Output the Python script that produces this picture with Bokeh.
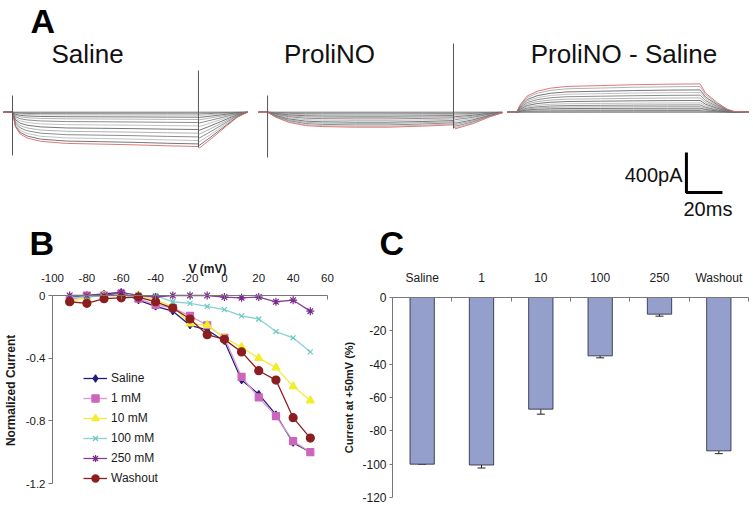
import math
from bokeh.plotting import figure
from bokeh.layouts import column, row
from bokeh.models import Label, Range1d, FixedTicker, Whisker, TeeHead, ColumnDataSource
from bokeh.embed import file_html
from bokeh.resources import INLINE

SANS = "Liberation Sans, Arial, sans-serif"

# ---------------- Panel A data (time in ms, current in pA) ----------------
saline_t = [0, 5, 6.7, 9.4, 13.1, 20.6, 35, 54, 72, 91, 108, 108.9, 113.1, 118.7, 124.2, 129.8, 134.3, 135.6]
saline_shape = [0, 0, 0.44, 0.64, 0.75, 0.85, 0.91, 0.93, 0.95, 0.98, 1.0, 1.04, 0.87, 0.63, 0.39, 0.15, 0.03, 0]
saline_amps = [0, -7, -17, -30, -50, -73, -103, -137, -173, -210, -247, -283, -317, -343]

prolino_t = [0, 5, 9.4, 16.7, 26, 35.5, 54, 72, 91, 108, 109.4, 118.7, 128, 135.4]
prolino_shape = [0, 0, 0.33, 0.67, 0.89, 0.96, 1.0, 1.0, 0.93, 0.84, 1.1, 0.78, 0.33, 0.04]
prolino_amps = [0, -7, -17, -27, -40, -53, -67, -83, -100, -113, -127, -140, -150]

diff_t = [0, 5, 7.2, 10.9, 16.5, 23.9, 33, 51.7, 70, 89, 107, 110, 116.5, 122, 125.6, 133.9]
diff_shape = [0, 0, 0.28, 0.57, 0.74, 0.85, 0.91, 0.94, 0.97, 0.99, 1.0, 0.68, 0.34, 0.11, 0.03, 0]
diff_amps = [0, 7, 17, 27, 40, 57, 73, 93, 117, 143, 170, 197, 223, 257, 283]

# capacitive transients: time, top, bottom
saline_spike_t = [5, 108.3]
saline_spike_top = [167, 417]
saline_spike_bot = [-433, -353]
prolino_spike_t = [5, 108.3]
prolino_spike_top = [167, 687]
prolino_spike_bot = [-453, -163]

panel_titles = ["Saline", "ProliNO", "ProliNO - Saline"]
scale_current = 400   # pA
scale_time = 20       # ms

# ---------------- Panel B data ----------------
voltages = [-90, -80, -70, -60, -50, -40, -30, -20, -10, 0, 10, 20, 30, 40, 50]
iv_saline = [-0.01, 0.0, 0.01, 0.02, -0.03, -0.07, -0.10, -0.19, -0.22, -0.29, -0.54, -0.63, -0.76, -0.94, -1.0]
iv_1mM = [-0.03, 0.0, 0.0, 0.01, -0.02, -0.06, -0.08, -0.13, -0.19, -0.27, -0.52, -0.65, -0.77, -0.93, -1.0]
iv_10mM = [-0.04, -0.01, 0.0, 0.0, 0.0, -0.03, -0.07, -0.18, -0.19, -0.27, -0.33, -0.40, -0.46, -0.58, -0.67]
iv_100mM = [-0.01, -0.01, 0.0, 0.0, -0.01, 0.0, -0.04, -0.05, -0.07, -0.09, -0.13, -0.15, -0.23, -0.27, -0.36]
iv_250mM = [0.0, 0.0, 0.0, 0.02, 0.0, -0.01, 0.0, 0.0, 0.0, -0.01, -0.015, -0.01, -0.04, -0.03, -0.10]
iv_washout = [-0.04, -0.05, -0.02, -0.015, -0.01, -0.04, -0.08, -0.15, -0.25, -0.28, -0.36, -0.48, -0.54, -0.78, -0.91]
iv_names = ["Saline", "1 mM", "10 mM", "100 mM", "250 mM", "Washout"]
b_xticks = [-100, -80, -60, -40, -20, 0, 20, 40, 60]
b_xtick_labels = ["-100", "-80", "-60", "-40", "-20", "0", "20", "40", "60"]
b_yticks = [-1.2, -0.8, -0.4, 0]
b_ytick_labels = ["-1.2", "-0.8", "-0.4", "0"]

# ---------------- Panel C data ----------------
c_categories = ["Saline", "1", "10", "100", "250", "Washout"]
c_values = [-100, -100.5, -67, -35, -10, -92]
c_errors = [0, 1.8, 3.0, 1.2, 1.2, 1.7]
c_yticks = [-120, -100, -80, -60, -40, -20, 0]
c_ytick_labels = ["-120", "-100", "-80", "-60", "-40", "-20", "0"]

# ======================= Panel A =======================
offsets = [0, 141.7, 280]   # horizontal placement of the three trace families
pa = figure(width=753, height=225, x_range=Range1d(-1.667, 416.67), y_range=Range1d(-1133, 1117),
            x_axis_location=None, y_axis_location=None, output_backend="svg",
            toolbar_location=None, min_border=0, outline_line_color=None)
pa.grid.visible = False

gray_cycle = ["#3c3c3c", "#909090", "#5c5c5c", "#a8a8a8"]

def add_family(ts, shape, amps, off):
    xs, ys, cols, widths = [], [], [], []
    for i, a in enumerate(amps):
        xs.append([t + off for t in ts])
        ys.append([a * s for s in shape])
        if i == len(amps) - 1:
            cols.append("#d86a6a"); widths.append(0.9)
        else:
            cols.append(gray_cycle[i % len(gray_cycle)]); widths.append(0.7)
    pa.multi_line(xs, ys, line_color=cols, line_width=widths)

add_family(saline_t, saline_shape, saline_amps, offsets[0])
add_family(prolino_t, prolino_shape, prolino_amps, offsets[1])
add_family(diff_t, diff_shape, diff_amps, offsets[2])

pa.segment(x0=[t + offsets[0] for t in saline_spike_t], y0=saline_spike_top,
           x1=[t + offsets[0] for t in saline_spike_t], y1=saline_spike_bot,
           line_color="#555555", line_width=1)
pa.segment(x0=[t + offsets[1] for t in prolino_spike_t], y0=prolino_spike_top,
           x1=[t + offsets[1] for t in prolino_spike_t], y1=prolino_spike_bot,
           line_color="#555555", line_width=1)

# scale bar
sb_x, sb_y = 379.4, -803
pa.line([sb_x, sb_x, sb_x + scale_time], [sb_y + scale_current, sb_y, sb_y],
        line_color="black", line_width=3)

pa.add_layout(Label(x=15, y=917, text="A", text_font=SANS, text_font_style="bold",
                    text_font_size="34px", text_baseline="middle", text_color="black"))
for ttl, cx in zip(panel_titles, [46.7, 181.1, 344.7]):
    pa.add_layout(Label(x=cx, y=582, text=ttl, text_font=SANS, text_font_size="26px",
                        text_align="center", text_baseline="middle", text_color="#111111"))
pa.add_layout(Label(x=(682 - 3) / 1.8, y=-630, text=f"{scale_current}pA", text_font=SANS,
                    text_font_size="20px", text_align="right", text_baseline="middle",
                    text_color="#111111"))
pa.add_layout(Label(x=(683 - 3) / 1.8, y=-968, text=f"{scale_time}ms", text_font=SANS,
                    text_font_size="20px", text_align="left", text_baseline="middle",
                    text_color="#111111"))

# ======================= Panel B =======================
pb = figure(width=335, height=280, x_range=Range1d(-130.25, 64.65), y_range=Range1d(-1.3404, 0.4468),
            x_axis_location="above", output_backend="svg", toolbar_location=None,
            min_border=0, outline_line_color=None)
pb.grid.visible = False
for ax in (pb.xaxis, pb.yaxis):
    ax.axis_line_color = "#777777"
    ax.major_tick_line_color = "#777777"
    ax.minor_tick_line_color = None
    ax.major_label_text_font = SANS
    ax.major_label_text_font_size = "11.5px"
    ax.major_label_text_color = "#1a1a1a"
pb.xaxis.fixed_location = 0
pb.xaxis.bounds = (b_xticks[0], b_xticks[-1])
pb.xaxis.ticker = FixedTicker(ticks=b_xticks)
pb.xaxis.major_label_overrides = dict(zip(b_xticks, b_xtick_labels))
pb.xaxis.major_tick_in = 4
pb.xaxis.major_tick_out = 0
pb.xaxis.major_label_standoff = 14
pb.yaxis.fixed_location = b_xticks[0]
pb.yaxis.bounds = (b_yticks[0], b_yticks[-1])
pb.yaxis.ticker = FixedTicker(ticks=b_yticks)
pb.yaxis.major_label_overrides = dict(zip(b_yticks, b_ytick_labels))
pb.yaxis.major_tick_in = 0
pb.yaxis.major_tick_out = 4
pb.yaxis.major_label_standoff = 3

series = [iv_saline, iv_1mM, iv_10mM, iv_100mM, iv_250mM, iv_washout]
line_cols = ["#1f1f7a", "#dc96d2", "#f2ec3a", "#86d4d4", "#8a3f96", "#8b1e1e"]
mark_cols = ["#1f1f7a", "#cc66bb", "#f2ec2a", "#6cc8c8", "#7a2a8a", "#8b1e1e"]
markers = ["diamond", "square", "triangle", "x", "asterisk", "circle"]
sizes = [7, 7, 8, 7, 8, 8]
for vals, name, lc, mc, mk, sz in zip(series, iv_names, line_cols, mark_cols, markers, sizes):
    pb.line(voltages, vals, line_color=lc, line_width=1.3, legend_label=name)
    pb.scatter(voltages, vals, marker=mk, size=sz, fill_color=mc, line_color=mc,
               line_width=1.2, legend_label=name)

leg = pb.legend[0]
leg.location = (83, 18)
leg.glyph_width = 24
leg.glyph_height = 18
leg.label_height = 18
leg.spacing = 2
leg.padding = 0
leg.margin = 0
leg.label_standoff = 4
leg.border_line_color = None
leg.background_fill_alpha = 0
leg.label_text_font = SANS
leg.label_text_font_size = "12px"
leg.label_text_color = "#1a1a1a"

pb.add_layout(Label(x=-113.4, y=0.335, text="B", text_font=SANS, text_font_style="bold",
                    text_font_size="34px", text_baseline="middle", text_color="black"))
pb.add_layout(Label(x=-9.8, y=0.166, text="V (mV)", text_font=SANS, text_font_style="bold",
                    text_font_size="12px", text_align="center", text_baseline="middle",
                    text_color="#1a1a1a"))
pb.add_layout(Label(x=-123.9, y=-0.606, text="Normalized Current", text_font=SANS,
                    text_font_style="bold", text_font_size="12px", text_align="center",
                    text_baseline="middle", angle=math.pi / 2, text_color="#1a1a1a"))

# ======================= Panel C =======================
c_x = [i + 0.5 for i in range(len(c_categories))]
pc = figure(width=418, height=280, x_range=Range1d(-0.9607, 6.0843), y_range=Range1d(-124.8, 43.2),
            x_axis_location="above", output_backend="svg", toolbar_location=None,
            min_border=0, outline_line_color=None)
pc.grid.visible = False
for ax in (pc.xaxis, pc.yaxis):
    ax.axis_line_color = "#777777"
    ax.major_tick_line_color = "#777777"
    ax.minor_tick_line_color = "#777777"
    ax.major_label_text_font = SANS
    ax.major_label_text_font_size = "12px"
    ax.major_label_text_color = "#1a1a1a"
pc.xaxis.fixed_location = 0
pc.xaxis.bounds = (0, len(c_categories))
pc.xaxis.ticker = FixedTicker(ticks=c_x, minor_ticks=list(range(len(c_categories) + 1)))
pc.xaxis.major_label_overrides = dict(zip(c_x, c_categories))
pc.xaxis.major_tick_line_color = None
pc.xaxis.major_tick_in = 0
pc.xaxis.major_tick_out = 0
pc.xaxis.minor_tick_in = 4
pc.xaxis.minor_tick_out = 0
pc.xaxis.major_label_standoff = 13
pc.yaxis.fixed_location = 0
pc.yaxis.bounds = (c_yticks[0], c_yticks[-1])
pc.yaxis.ticker = FixedTicker(ticks=c_yticks)
pc.yaxis.major_label_overrides = dict(zip(c_yticks, c_ytick_labels))
pc.yaxis.minor_tick_line_color = None
pc.yaxis.major_tick_in = 0
pc.yaxis.major_tick_out = 3
pc.yaxis.major_label_standoff = 3

src = ColumnDataSource(dict(x=c_x, top=c_values,
                            lower=[v - e for v, e in zip(c_values, c_errors)]))
pc.vbar(x="x", top="top", bottom=0, width=0.41, source=src, fill_color="#959fcc",
        line_color="#22223a", line_width=0.8)
pc.add_layout(Whisker(source=src, base="x", upper="top", lower="lower", dimension="height",
                      upper_head=None, lower_head=TeeHead(size=8, line_width=1, line_color="#222222"),
                      line_color="#222222", line_width=1))

pc.add_layout(Label(x=-0.219, y=32.7, text="C", text_font=SANS, text_font_style="bold",
                    text_font_size="34px", text_baseline="middle", text_color="black"))
pc.add_layout(Label(x=-0.725, y=-60, text="Current at +50mV (%)", text_font=SANS,
                    text_font_style="bold", text_font_size="11px", text_align="center",
                    text_baseline="middle", angle=math.pi / 2, text_color="#1a1a1a"))

layout = column(pa, row(pb, pc))
open("out.html", "w").write(file_html(layout, INLINE))
